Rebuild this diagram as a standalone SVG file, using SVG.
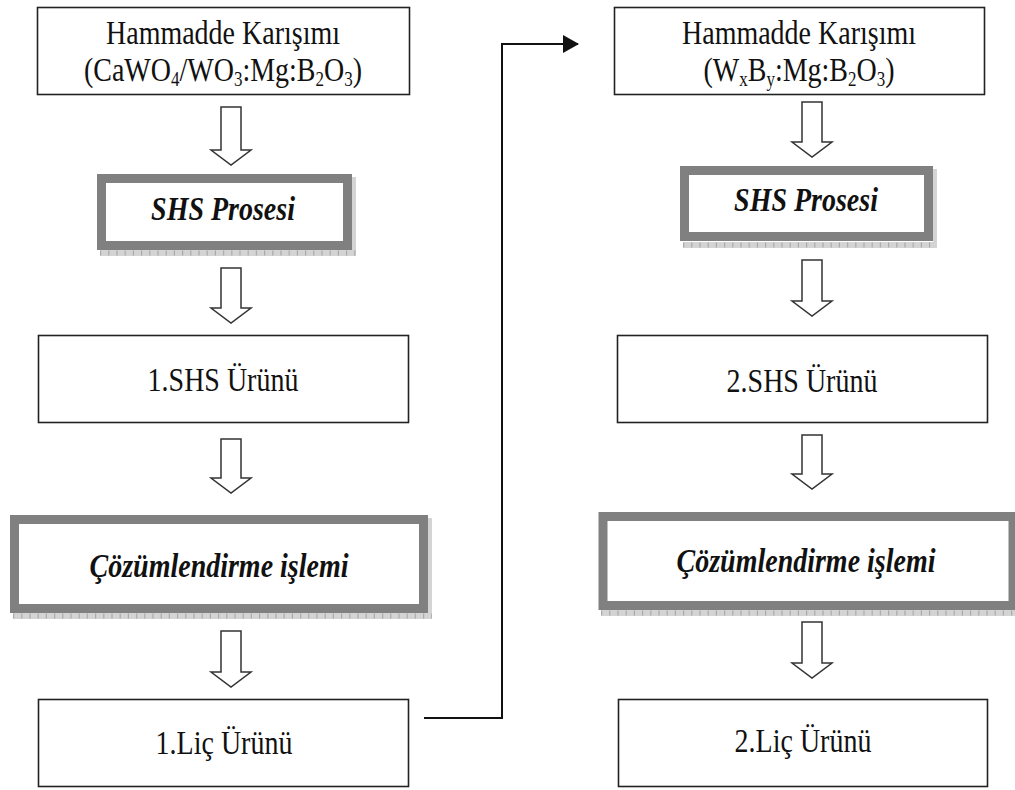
<svg xmlns="http://www.w3.org/2000/svg" width="1015" height="790" viewBox="0 0 1015 790">
<style>
.box{fill:#fff;stroke:#222;stroke-width:1.6}
.frame{fill:#fff;stroke:#808080;stroke-width:9}
.shadow{fill:#d4d4d4}
.ticks{fill:none;stroke:#aaa;stroke-width:5;stroke-dasharray:1.2 7}
.barrow{fill:#fff;stroke:#333;stroke-width:1.5;stroke-linejoin:miter}
.t{font-family:"Liberation Serif","Times New Roman",serif;font-size:28px;fill:#111;text-anchor:middle}
.bi{font-weight:bold;font-style:italic}
.sub{font-size:17px}
.conn{fill:none;stroke:#111;stroke-width:2}
</style>
<defs>
<marker id="ah" markerWidth="16" markerHeight="18" refX="15" refY="9" orient="auto" markerUnits="userSpaceOnUse">
<path d="M0,0 L16,9 L0,18 Z" fill="#111"/>
</marker>
</defs>
<rect width="1015" height="790" fill="#fff"/>

<g id="connectors">
<path class="barrow" d="M221,107 H241 V150 H251 L231,165 L211,150 H221 Z"/>
<path class="barrow" d="M221,268 H241 V308 H251 L231,323 L211,308 H221 Z"/>
<path class="barrow" d="M221,439 H241 V478 H251 L231,493 L211,478 H221 Z"/>
<path class="barrow" d="M221,631 H241 V672 H251 L231,687 L211,672 H221 Z"/>
<path class="barrow" d="M802,102 H822 V142 H832 L812,157 L792,142 H802 Z"/>
<path class="barrow" d="M802,260 H822 V301 H832 L812,316 L792,301 H802 Z"/>
<path class="barrow" d="M802,435 H822 V474 H832 L812,489 L792,474 H802 Z"/>
<path class="barrow" d="M802,622 H822 V663 H832 L812,678 L792,663 H802 Z"/>
<path class="conn" d="M424,718 H502 V44 H578" marker-end="url(#ah)"/>
</g>

<g id="n1">
<rect class="box" x="37.5" y="7.5" width="372" height="87"/>
<text class="t" transform="translate(223,44) scale(1,1.18)"><tspan x="0" y="0">Hammadde Karışımı</tspan><tspan x="0" y="31.5">(CaWO</tspan><tspan class="sub" dy="4">4</tspan><tspan dy="-4">/WO</tspan><tspan class="sub" dy="4">3</tspan><tspan dy="-4">:Mg:B</tspan><tspan class="sub" dy="4">2</tspan><tspan dy="-4">O</tspan><tspan class="sub" dy="4">3</tspan><tspan dy="-4">)</tspan></text>
</g>

<g id="n2">
<rect class="shadow" x="100" y="250" width="255" height="6"/>
<rect class="shadow" x="352" y="177" width="4" height="79"/>
<line class="ticks" x1="100" y1="253" x2="356" y2="253"/>
<rect class="frame" x="101.5" y="178.5" width="246" height="67"/>
<text class="t bi" transform="translate(223,220) scale(1,1.18)">SHS Prosesi</text>
</g>

<g id="n3">
<rect class="box" x="38.5" y="335.5" width="370" height="87"/>
<text class="t" transform="translate(223,391) scale(1,1.18)">1.SHS Ürünü</text>
</g>

<g id="n4">
<rect class="shadow" x="13" y="613" width="418" height="6"/>
<rect class="shadow" x="428" y="518" width="4" height="101"/>
<line class="ticks" x1="13" y1="616" x2="432" y2="616"/>
<rect class="frame" x="14.5" y="519.5" width="409" height="89"/>
<text class="t bi" transform="translate(219,577) scale(1,1.18)">Çözümlendirme işlemi</text>
</g>

<g id="n5">
<rect class="box" x="38.5" y="699.5" width="370" height="87"/>
<text class="t" transform="translate(224,754) scale(1,1.18)">1.Liç Ürünü</text>
</g>

<g id="n6">
<rect class="box" x="614.5" y="7.5" width="370" height="87"/>
<text class="t" transform="translate(799,44) scale(1,1.18)"><tspan x="0" y="0">Hammadde Karışımı</tspan><tspan x="0" y="31.5">(W</tspan><tspan class="sub" dy="4">x</tspan><tspan dy="-4">B</tspan><tspan class="sub" dy="4">y</tspan><tspan dy="-4">:Mg:B</tspan><tspan class="sub" dy="4">2</tspan><tspan dy="-4">O</tspan><tspan class="sub" dy="4">3</tspan><tspan dy="-4">)</tspan></text>
</g>

<g id="n7">
<rect class="shadow" x="683" y="242" width="253" height="6"/>
<rect class="shadow" x="933" y="169" width="4" height="79"/>
<line class="ticks" x1="683" y1="245" x2="937" y2="245"/>
<rect class="frame" x="684.5" y="170.5" width="244" height="66"/>
<text class="t bi" transform="translate(806,211) scale(1,1.18)">SHS Prosesi</text>
</g>

<g id="n8">
<rect class="box" x="617.5" y="335.5" width="370" height="87"/>
<text class="t" transform="translate(802,392) scale(1,1.18)">2.SHS Ürünü</text>
</g>

<g id="n9">
<rect class="shadow" x="601" y="610" width="414" height="6"/>
<line class="ticks" x1="601" y1="613" x2="1015" y2="613"/>
<rect class="frame" x="603" y="516.5" width="410" height="89"/>
<text class="t bi" transform="translate(806,572) scale(1,1.18)">Çözümlendirme işlemi</text>
</g>

<g id="n10">
<rect class="box" x="618.5" y="699.5" width="369" height="87"/>
<text class="t" transform="translate(803,752) scale(1,1.18)">2.Liç Ürünü</text>
</g>
</svg>
